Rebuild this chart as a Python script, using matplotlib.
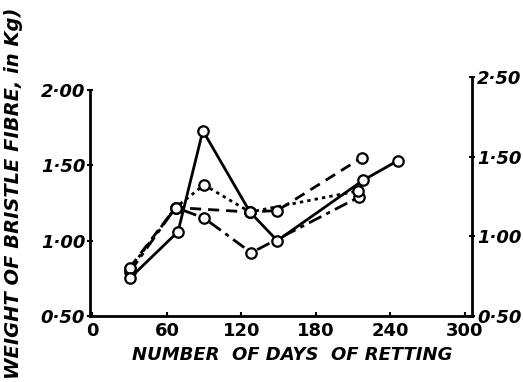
import matplotlib
matplotlib.use("Agg")
import matplotlib.pyplot as plt

# ---- data ----
days_a = [30, 69, 89, 127, 149, 218, 246]
vals_a = [0.75, 1.06, 1.73, 1.19, 1.00, 1.40, 1.53]

days_b = [30, 67, 127, 149, 217]
vals_b = [0.82, 1.22, 1.19, 1.20, 1.55]

days_c = [30, 67, 90, 128, 215]
vals_c = [0.79, 1.22, 1.15, 0.92, 1.29]

days_d = [30, 67, 90, 127, 214]
vals_d = [0.81, 1.22, 1.37, 1.19, 1.33]

x_ticks = [0, 60, 120, 180, 240, 300]
x_tick_labels = ["0", "60", "120", "180", "240", "300"]
left_ticks = [0.5, 1.0, 1.5, 2.0]
left_tick_labels = ["0·50", "1·00", "1·50", "2·00"]
right_ticks = [0.5, 1.0, 1.5, 2.0]
right_tick_labels = ["0·50", "1·00", "1·50", "2·50"]

W, H = 523, 382
fig = plt.figure(figsize=(W / 100, H / 100), dpi=100)
ax = fig.add_axes([90 / W, 1 - 316 / H, 382 / W, (316 - 77) / H])

mk = dict(marker="o", markersize=7.5, markerfacecolor="white",
          markeredgecolor="black", markeredgewidth=1.6, color="black")
ax.plot(days_c, vals_c, linestyle=(0, (5, 2, 1.5, 2)), linewidth=2, **mk)
ax.plot(days_d, vals_d, linestyle=(0, (1.2, 1.5)), linewidth=2, **mk)
ax.plot(days_b, vals_b, linestyle=(0, (4, 2.5)), linewidth=2, **mk)
ax.plot(days_a, vals_a, linestyle="-", linewidth=2, **mk)

ax.set_xlim(-2, 306)
ax.set_ylim(0.5, 0.5 + (316 - 77) / (316 - 90) * 1.5)
ax.spines["top"].set_visible(False)
ax.spines["right"].set_visible(False)
ax.spines["left"].set_bounds(0.5, 2.0)
for s in ("left", "bottom"):
    ax.spines[s].set_linewidth(2)

tick_font = dict(fontsize=13, fontstyle="italic", fontweight="bold")
ax.set_xticks(x_ticks)
ax.set_xticklabels(x_tick_labels, fontsize=13, fontweight="bold")
ax.set_yticks(left_ticks)
ax.set_yticklabels(left_tick_labels, **tick_font)
ax.tick_params(axis="x", direction="in", length=3, width=1.5, pad=4)
ax.tick_params(axis="y", direction="inout", length=5, width=1.5, pad=1)

ax2 = ax.twinx()
ax2.set_ylim(0.5, 2.0)
ax2.set_yticks(right_ticks)
ax2.set_yticklabels(right_tick_labels, **tick_font)
for s in ("top", "left", "bottom"):
    ax2.spines[s].set_visible(False)
ax2.spines["right"].set_linewidth(2)
ax2.tick_params(axis="y", direction="inout", length=5, width=1.5, pad=1)

fig.text(292 / W, 1 - 355 / H, "NUMBER  OF DAYS  OF RETTING",
         ha="center", va="center", fontsize=13, fontstyle="italic",
         fontweight="bold")
fig.text(14 / W, 1 - 379 / H, "WEIGHT OF BRISTLE FIBRE, in Kg)",
         rotation=90, ha="center", va="bottom", fontsize=14,
         fontstyle="italic", fontweight="bold")

fig.savefig("out.png", dpi=100, facecolor="white")
